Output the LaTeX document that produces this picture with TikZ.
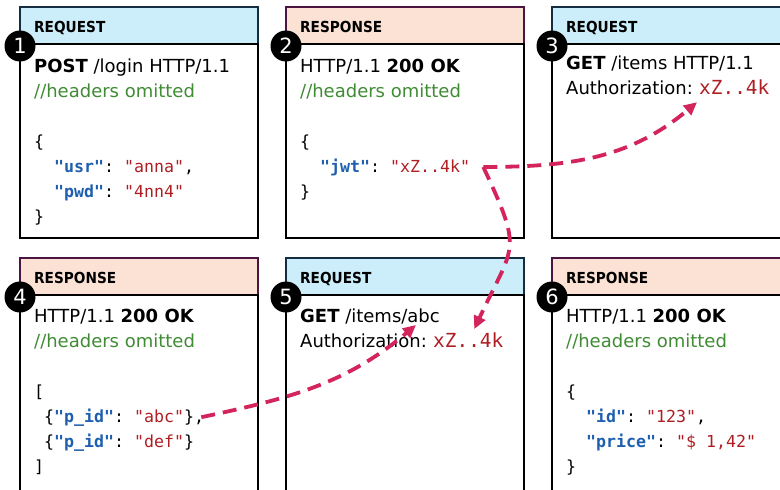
\documentclass[tikz,border=0pt]{standalone}
\usepackage{fontspec}
\setmainfont{DejaVu Sans}
\setmonofont{DejaVu Sans Mono}
\newfontfamily\headfont{DejaVu Sans Condensed}
\usepackage{tikz}
\usetikzlibrary{arrows.meta}

\definecolor{reqfill}{RGB}{204,237,250}
\definecolor{reqdraw}{RGB}{20,45,65}
\definecolor{respfill}{RGB}{251,226,212}
\definecolor{respdraw}{RGB}{75,20,65}
\definecolor{cmtgreen}{RGB}{64,140,52}
\definecolor{keyblue}{RGB}{30,95,175}
\definecolor{valred}{RGB}{175,30,35}
\definecolor{tokenpink}{RGB}{212,36,92}

\newcommand{\jkey}[1]{\textcolor{keyblue}{\bfseries"#1"}}
\newcommand{\jval}[1]{\textcolor{valred}{"#1"}}

\begin{document}
\begin{tikzpicture}[x=1pt, y=-1pt,
   head_box/.style={line width=1.6pt},
   body_box/.style={draw=black, line width=2.4pt},
   head_text/.style={anchor=base west, inner sep=0pt, font=\headfont\bfseries\fontsize{15.2}{17}\selectfont},
   num_badge/.style={circle, fill=black, text=white, minimum size=31pt, inner sep=0pt, font=\fontsize{21}{21}\selectfont},
   line_text/.style={anchor=base west, inner sep=0pt, font=\fontsize{18}{21}\selectfont},
   note_text/.style={line_text, text=cmtgreen},
   code_text/.style={anchor=base west, inner sep=0pt, font=\ttfamily\fontsize{16.6}{20}\selectfont},
   token_text/.style={code_text, text=valred, font=\ttfamily\fontsize{19.4}{21}\selectfont},
   token_style/.style={draw=tokenpink, line width=3.8pt, dash pattern=on 14pt off 8pt, -{Triangle[length=13pt,width=12pt]}}]
	\useasboundingbox (0,0) rectangle (780,490);
	\fill [white] (0,0) rectangle (780,490);
	\clip (0,0) rectangle (780,490);

	\foreach \x/\y/\bot/\fillc/\drawc/\title/\n in {
		20/7/238/reqfill/reqdraw/REQUEST/1,
		286/7/238/respfill/respdraw/RESPONSE/2,
		552/7/238/reqfill/reqdraw/REQUEST/3,
		20/258/520/respfill/respdraw/RESPONSE/4,
		286/258/520/reqfill/reqdraw/REQUEST/5,
		552/258/520/respfill/respdraw/RESPONSE/6
		}
	{
		\draw [head_box, fill=\fillc, draw=\drawc] (\x,\y) rectangle (\x+238,\y+37);
		\draw [body_box] (\x,\y+37) rectangle (\x+238,\bot);
		\node [head_text] (h\n) at (\x+14,\y+25) {\title};
		\node [num_badge] (n\n) at (\x,\y+39) {\n};
	}

	% first row
	\node [line_text] (l1a) at (34,72) {\textbf{POST} /login HTTP/1.1};
	\node [note_text] (l1b) at (34,97) {//headers omitted};
	\node [code_text] (l1c) at (34,147) {\{};
	\node [code_text] (l1d) at (54,172) {\jkey{usr}: \jval{anna},};
	\node [code_text] (l1e) at (54,197) {\jkey{pwd}: \jval{4nn4}};
	\node [code_text] (l1f) at (34,222) {\}};

	\node [line_text] (l2a) at (300,72) {HTTP/1.1 \textbf{200 OK}};
	\node [note_text] (l2b) at (300,97) {//headers omitted};
	\node [code_text] (l2c) at (300,147) {\{};
	\node [code_text] (jwt2) at (320,172) {\jkey{jwt}: \jval{xZ..4k}};
	\node [code_text] (l2e) at (300,197) {\}};

	\node [line_text] (l3a) at (566,69) {\textbf{GET} /items HTTP/1.1};
	\node [line_text] (l3b) at (566,94) {Authorization:};
	\node [token_text] (tok3) at ([xshift=6pt]l3b.base east) {xZ..4k};

	% second row
	\node [line_text] (l4a) at (34,322) {HTTP/1.1 \textbf{200 OK}};
	\node [note_text] (l4b) at (34,347) {//headers omitted};
	\node [code_text] (l4c) at (34,397) {[};
	\node [code_text] (pid4) at (44,422) {\{\jkey{p\_id}: \jval{abc}\},};
	\node [code_text] (l4e) at (44,447) {\{\jkey{p\_id}: \jval{def}\}};
	\node [code_text] (l4f) at (34,472) {]};

	\node [line_text] (get5) at (300,322) {\textbf{GET} /items/abc};
	\node [line_text] (l5b) at (300,347) {Authorization:};
	\node [token_text] (tok5) at ([xshift=6pt]l5b.base east) {xZ..4k};

	\node [line_text] (l6a) at (566,322) {HTTP/1.1 \textbf{200 OK}};
	\node [note_text] (l6b) at (566,347) {//headers omitted};
	\node [code_text] (l6c) at (566,397) {\{};
	\node [code_text] (l6d) at (586,422) {\jkey{id}: \jval{123},};
	\node [code_text] (l6e) at (586,447) {\jkey{price}: \jval{\$ 1,42}};
	\node [code_text] (l6f) at (566,472) {\}};

	% token flow
	\coordinate (jwt_out) at ([xshift=13pt]jwt2.east);
	\draw [token_style] (jwt_out) to[out=0, in=-140] ([xshift=-2pt,yshift=-8pt]tok3.south west);
	\draw [token_style] (jwt_out) to[out=-65, in=65, looseness=1.5] ([xshift=6pt,yshift=3pt]tok5.north);
	\draw [token_style] ([xshift=-3pt]pid4.east) to[out=12, in=-140] ([xshift=-24pt,yshift=-3pt]get5.base east);

\end{tikzpicture}
\end{document}
